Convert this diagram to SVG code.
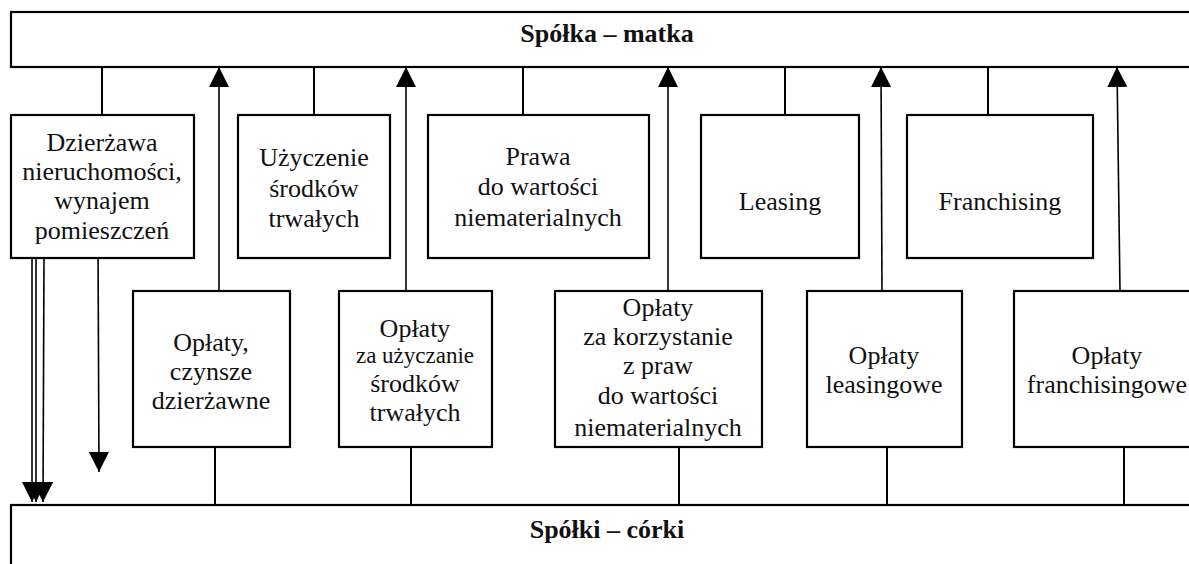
<svg xmlns="http://www.w3.org/2000/svg" width="1189" height="564" viewBox="0 0 1189 564">
<defs>
<style>
.box{fill:#fff;stroke:#000;stroke-width:2.2}
.ln{stroke:#000;stroke-width:2;fill:none}
.ar{stroke:#000;stroke-width:1.6;fill:none;marker-end:url(#ah)}
text{font-family:"Liberation Serif","Times New Roman",serif;font-size:26px;fill:#111;text-anchor:middle}
.t{font-weight:bold;font-size:26px}
.s{font-size:23px}
</style>
<marker id="ah" markerUnits="userSpaceOnUse" markerWidth="20" markerHeight="20" refX="20" refY="10" orient="auto" viewBox="0 0 20 20">
<path d="M0,0 L20,10 L0,20 z" fill="#000"/>
</marker>
</defs>
<g id="parent">
<rect class="box" x="11" y="12" width="1190" height="55"/>
<text class="t" x="607" y="42">Spółka – matka</text>
</g>
<g id="children">
<rect class="box" x="11" y="505" width="1190" height="70"/>
<text class="t" x="607" y="538">Spółki – córki</text>
</g>
<g id="connectors">
<line class="ln" x1="102" y1="67" x2="102" y2="115"/>
<line class="ln" x1="314" y1="67" x2="314" y2="115"/>
<line class="ln" x1="523" y1="67" x2="523" y2="115"/>
<line class="ln" x1="785" y1="67" x2="785" y2="115"/>
<line class="ln" x1="988" y1="67" x2="988" y2="115"/>
<line class="ln" x1="215" y1="447" x2="215" y2="505"/>
<line class="ln" x1="411" y1="447" x2="411" y2="505"/>
<line class="ln" x1="679" y1="447" x2="679" y2="505"/>
<line class="ln" x1="887" y1="447" x2="887" y2="505"/>
<line class="ln" x1="1124" y1="447" x2="1124" y2="505"/>
<line class="ar" x1="219" y1="291" x2="219" y2="67"/>
<line class="ar" x1="406" y1="291" x2="406" y2="67"/>
<line class="ar" x1="668" y1="291" x2="668" y2="67"/>
<line class="ar" x1="882" y1="291" x2="881" y2="67"/>
<line class="ar" x1="1120" y1="291" x2="1117" y2="67"/>
<line class="ar" x1="32" y1="258" x2="32" y2="502"/>
<line class="ar" x1="36" y1="258" x2="36" y2="502"/>
<line class="ar" x1="44" y1="258" x2="43" y2="502"/>
<line class="ar" x1="98" y1="243" x2="99" y2="472"/>
</g>
<g id="n1">
<rect class="box" x="11" y="115" width="183" height="143"/>
<text x="102" y="151">Dzierżawa</text>
<text x="102" y="180">nieruchomości,</text>
<text x="102" y="209">wynajem</text>
<text x="102" y="239">pomieszczeń</text>
</g>
<g id="n2">
<rect class="box" x="238" y="115" width="152" height="143"/>
<text x="314" y="166">Użyczenie</text>
<text x="314" y="197">środków</text>
<text x="314" y="227">trwałych</text>
</g>
<g id="n3">
<rect class="box" x="428" y="115" width="221" height="143"/>
<text x="538" y="165">Prawa</text>
<text x="538" y="195">do wartości</text>
<text x="538" y="226">niematerialnych</text>
</g>
<g id="n4">
<rect class="box" x="701" y="115" width="158" height="143"/>
<text x="780" y="210">Leasing</text>
</g>
<g id="n5">
<rect class="box" x="907" y="115" width="186" height="143"/>
<text x="1000" y="210">Franchising</text>
</g>
<g id="n6">
<rect class="box" x="133" y="291" width="157" height="156"/>
<text x="211" y="351">Opłaty,</text>
<text x="211" y="380">czynsze</text>
<text x="211" y="409">dzierżawne</text>
</g>
<g id="n7">
<rect class="box" x="339" y="291" width="153" height="156"/>
<text x="415" y="337">Opłaty</text>
<text class="s" x="415" y="363">za użyczanie</text>
<text x="415" y="392">środków</text>
<text x="415" y="421">trwałych</text>
</g>
<g id="n8">
<rect class="box" x="555" y="291" width="207" height="156"/>
<text x="658" y="316">Opłaty</text>
<text x="658" y="345">za korzystanie</text>
<text x="658" y="374">z praw</text>
<text x="658" y="404">do wartości</text>
<text x="658" y="436">niematerialnych</text>
</g>
<g id="n9">
<rect class="box" x="807" y="291" width="155" height="156"/>
<text x="884" y="364">Opłaty</text>
<text x="884" y="393">leasingowe</text>
</g>
<g id="n10">
<rect class="box" x="1014" y="291" width="190" height="156"/>
<text x="1107" y="364">Opłaty</text>
<text x="1107" y="393">franchisingowe</text>
</g>
</svg>
